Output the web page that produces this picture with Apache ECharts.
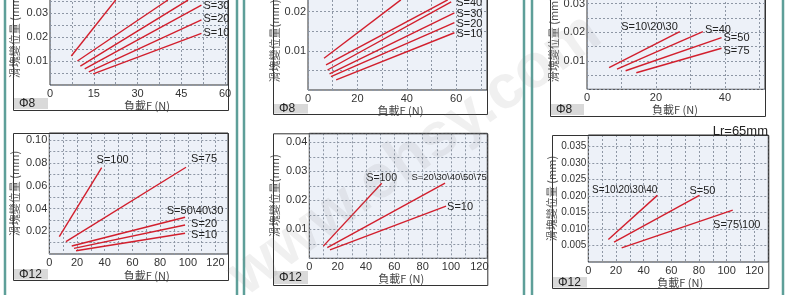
<!DOCTYPE html>
<html>
<head>
<meta charset="utf-8">
<script src="https://cdn.jsdelivr.net/npm/echarts@6/dist/echarts.min.js"></script>
<style>
html, body { margin: 0; padding: 0; background: #fff; }
#chart { width: 790px; height: 295px; }
</style>
</head>
<body>
<div id="chart"></div>
<script>
// ---- data: [load F (N), displacement (mm)] ----
// Φ8 (1)
const names1 = ['', '', '', 'S=30', 'S=20', 'S=10'];
const lines1 = [
  [[7.3, 0.0121], [22.5, 0.0354]],
  [[9.4, 0.0100], [40.4, 0.0354]],
  [[10.4, 0.0079], [47.3, 0.0354]],
  [[11.9, 0.0067], [51.9, 0.0333]],
  [[13.3, 0.0055], [51.9, 0.0271]],
  [[14.8, 0.0046], [51.9, 0.0215]]
];
const xTicks1 = [0, 15, 30, 45, 60];
const yTicks1 = [0.01, 0.02, 0.03];

// Φ8 (2)
const names2 = ['', '', 'S=40', 'S=30', 'S=20', 'S=10'];
const lines2 = [
  [[6.5, 0.0081], [37.6, 0.0230]],
  [[7.3, 0.0064], [56.6, 0.0230]],
  [[7.9, 0.0051], [58.0, 0.0225]],
  [[8.7, 0.0041], [59.3, 0.0197]],
  [[9.3, 0.0034], [59.3, 0.0172]],
  [[11.4, 0.0026], [59.3, 0.0146]]
];
const xTicks2 = [0, 20, 40, 60];
const yTicks2 = [0.01, 0.02];

// Φ8 (3)
const names3 = ['S=10\\20\\30', 'S=40', 'S=50', 'S=75'];
const lines3 = [
  [[6.4, 0.0076], [26.9, 0.0202]],
  [[8.7, 0.0071], [33.6, 0.0202]],
  [[11.2, 0.0065], [39.0, 0.0181]],
  [[14.3, 0.0058], [39.0, 0.0144]]
];
const xTicks3 = [0, 20, 40];
const yTicks3 = [0.01, 0.02, 0.03];

// Φ12 (4)
const names4 = ['S=100', 'S=75', 'S=50\\40\\30', 'S=20', 'S=10'];
const lines4 = [
  [[7.2, 0.0152], [37.8, 0.0759]],
  [[12.0, 0.0108], [98.7, 0.0763]],
  [[16.2, 0.0070], [98.0, 0.0323]],
  [[17.8, 0.0050], [98.0, 0.0255]],
  [[19.3, 0.0029], [98.0, 0.0182]]
];
const xTicks4 = [0, 20, 40, 60, 80, 100, 120];
const yTicks4 = [0.02, 0.04, 0.06, 0.08, 0.10];

// Φ12 (5)
const names5 = ['S=100', 'S=20\\30\\40\\50\\75', 'S=10'];
const lines5 = [
  [[9.9, 0.0042], [51.1, 0.0259]],
  [[12.7, 0.0037], [95.8, 0.0259]],
  [[14.6, 0.0029], [96.5, 0.0180]]
];
const xTicks5 = [0, 20, 40, 60, 80, 100, 120];
const yTicks5 = [0.01, 0.02, 0.03, 0.04];

// Φ12 (6)
const names6 = ['S=10\\20\\30\\40', 'S=50', 'S=75\\100'];
const lines6 = [
  [[14.5, 0.0068], [49.9, 0.0202]],
  [[18.6, 0.0060], [80.3, 0.0202]],
  [[24.1, 0.0043], [104.4, 0.0157]]
];
const xTicks6 = [0, 20, 40, 60, 80, 100, 120];
const yTicks6 = [0.005, 0.010, 0.015, 0.020, 0.025, 0.030, 0.035];

// ---- layout / style ----
const RED = '#d21f2d';
const FONT = '"Liberation Sans", Arial, "Noto Sans CJK TC", sans-serif';
const CJK = '"Noto Sans CJK TC", "Liberation Sans", sans-serif';
const Y_NAME = '滑塊變位量 (mm)';
const X_NAME = '負載F (N)';

const panels = [
  { names: names1, lines: lines1, xTicks: xTicks1, yTicks: yTicks1, dia: 'Φ8',
    box: [50, -14, 178, 99], xMax: 61, xStep: 7.5, yMax: 0.04125, yStep: 0.005, digits: 2,
    frame: [13, -5, 215, 115], tag: [14, 98, 34, 11], xGap: 15, xShift: 8, yGap: 30, yName: Y_NAME, ySize: 11,
    labels: [null, null, null, ['left', 2, 1, 11], ['left', 2, -1, 11], ['left', 2, 0, 11]] },
  { names: names2, lines: lines2, xTicks: xTicks2, yTicks: yTicks2, dia: 'Φ8',
    box: [308, -8, 179, 98], xMax: 72.5, xStep: 10, yMax: 0.025, yStep: 0.005, digits: 2,
    frame: [273, -5, 214, 119], tag: [274, 104, 34, 9.5], xGap: 13, xShift: 3, yGap: 28, yName: '滑塊變位量(mm)', ySize: 11,
    labels: [null, null, ['left', 5, 1, 11], ['left', 2, 1, 11], ['left', 2, 1, 11], ['left', 2, 1, 11]] },
  { names: names3, lines: lines3, xTicks: xTicks3, yTicks: yTicks3, dia: 'Φ8',
    box: [587, -10, 178, 99.3], xMax: 51.6, xStep: 10, yMax: 0.0348, yStep: 0.005, digits: 2,
    frame: [550, -5, 215, 121], tag: [551, 104, 33, 11], xGap: 13, xShift: -1, yGap: 25, yName: Y_NAME, ySize: 11,
    labels: [['right', -2, -5, 11], ['left', 2, -2, 11], ['left', 2, 0, 11], ['left', 2, 3, 11]] },
  { names: names4, lines: lines4, xTicks: xTicks4, yTicks: yTicks4, dia: 'Φ12',
    box: [49.3, 133, 178.7, 121], xMax: 129, xStep: 10, yMax: 0.1064, yStep: 0.01, digits: 2,
    frame: [13, 133, 215, 147], tag: [14, 269, 34, 10.5], xGap: 16, xShift: 8, yGap: 29, yName: Y_NAME, ySize: 11,
    labels: [['center', 11, -8, 11], ['left', 5, -8, 11], ['center', 10, -6, 11], ['left', 6, -1, 11], ['left', 6, 2, 11]] },
  { names: names5, lines: lines5, xTicks: xTicks5, yTicks: yTicks5, dia: 'Φ12',
    box: [309.3, 133.3, 178, 125], xMax: 125.6, xStep: 10, yMax: 0.0431, yStep: 0.005, digits: 2,
    frame: [273, 133.3, 214.3, 151.7], tag: [274, 271, 34, 13], xGap: 11, xShift: 3, yGap: 29, yName: '滑塊變位量(mm)', ySize: 11,
    labels: [['center', 0, -5, 10.5], ['center', 4, -6, 9.5], ['left', 1, 1, 11]] },
  { names: names6, lines: lines6, xTicks: xTicks6, yTicks: yTicks6, dia: 'Φ12',
    box: [588.3, 135, 180, 127], xMax: 130.1, xStep: 10, yMax: 0.0385, yStep: 0.005, digits: 3,
    frame: [552, 135, 216.3, 153], tag: [553, 277, 34, 10.5], xGap: 14, xShift: 2, yGap: 30, yName: Y_NAME, ySize: 10,
    labels: [['right', 0, -5, 10], ['center', 3, -4, 11], ['center', 4, 15, 11]] }
];

const near = (arr, v) => arr.some(t => Math.abs(t - v) < 1e-7);

const option = {
  animation: false,
  grid: [], xAxis: [], yAxis: [], series: [], graphic: []
};

panels.forEach((p, i) => {
  option.grid.push({
    left: p.box[0], top: p.box[1], width: p.box[2], height: p.box[3],
    show: true, backgroundColor: '#edf1f8', borderColor: '#333', borderWidth: 1,
    containLabel: false, outerBoundsMode: 'none'
  });
  option.xAxis.push({
    type: 'value', gridIndex: i, min: 0, max: p.xMax, interval: p.xStep,
    name: X_NAME, nameLocation: 'middle', nameGap: p.xGap,
    nameTextStyle: { fontFamily: CJK, fontSize: 11, color: '#444', padding: [0, 0, 0, p.xShift * 2] },
    axisLine: { show: false }, axisTick: { show: false },
    axisLabel: { margin: 3, fontSize: 11, color: '#333', fontFamily: FONT,
      formatter: v => near(p.xTicks, v) ? String(Math.round(v)) : '' },
    splitLine: { show: true, lineStyle: { color: '#8e97a5', width: 1, type: [2, 2] } }
  });
  option.yAxis.push({
    type: 'value', gridIndex: i, min: 0, max: p.yMax, interval: p.yStep,
    name: p.yName, nameLocation: 'middle', nameGap: p.yGap, nameRotate: 90,
    nameTextStyle: { fontFamily: CJK, fontSize: 11, color: '#555' },
    axisLine: { show: false }, axisTick: { show: false },
    axisLabel: { margin: 2, fontSize: p.ySize, color: '#333', fontFamily: FONT,
      formatter: v => near(p.yTicks, v) ? v.toFixed(p.digits) : '' },
    splitLine: { show: true, lineStyle: { color: '#8e97a5', width: 1, type: [2, 2] } }
  });
  p.lines.forEach((line, k) => {
    const lab = p.labels[k];
    const last = line.length - 1;
    option.series.push({
      type: 'line', name: p.names[k], xAxisIndex: i, yAxisIndex: i,
      data: line, symbol: 'circle', symbolSize: 0, showSymbol: true,
      lineStyle: { color: RED, width: 1.4 }, itemStyle: { color: RED },
      silent: true, emphasis: { disabled: true },
      label: lab ? {
        show: true, position: 'inside', align: lab[0], verticalAlign: 'middle',
        offset: [lab[1], lab[2]], fontSize: lab[3], color: '#222', fontFamily: FONT,
        formatter: q => q.dataIndex === last ? p.names[k] : ''
      } : { show: false }
    });
  });
  // outer frame and diameter tag
  option.graphic.push({
    type: 'rect', z: 1, silent: true,
    shape: { x: p.frame[0] + 0.5, y: p.frame[1] + 0.5, width: p.frame[2], height: p.frame[3] },
    style: { fill: null, stroke: '#333', lineWidth: 1 }
  });
  option.graphic.push({
    type: 'rect', z: 1, silent: true,
    shape: { x: p.tag[0], y: p.tag[1], width: p.tag[2], height: p.tag[3] },
    style: { fill: '#d9d9d9' }
  });
  option.graphic.push({
    type: 'text', z: 2, silent: true, x: p.tag[0] + 5, y: p.tag[1] + p.tag[3] / 2,
    style: { text: p.dia, fontSize: 12, fontFamily: FONT, fill: '#222', verticalAlign: 'middle' }
  });
});

// teal page rules
[5, 237, 244, 524, 532, 783].forEach(x => {
  option.graphic.push({
    type: 'line', z: 5, silent: true,
    shape: { x1: x, y1: 0, x2: x, y2: 295 },
    style: { stroke: '#5e9f99', lineWidth: 2.5 }
  });
});

option.graphic.push({
  type: 'text', z: 5, silent: true, x: 768, y: 131,
  style: { text: 'Lr=65mm', fontSize: 13, fontFamily: FONT, fill: '#222', align: 'right', verticalAlign: 'middle' }
});

// faint watermark
option.graphic.push({
  type: 'text', z: 10, silent: true, x: 415, y: 155, rotation: 0.62,
  style: { text: 'www.ehsy.com', fontSize: 62, fontWeight: 'bold', fontFamily: FONT,
    fill: 'rgba(140,140,140,0.13)', align: 'center', verticalAlign: 'middle' }
});

const chart = echarts.init(document.getElementById('chart'));
chart.setOption(option);
</script>
</body>
</html>
